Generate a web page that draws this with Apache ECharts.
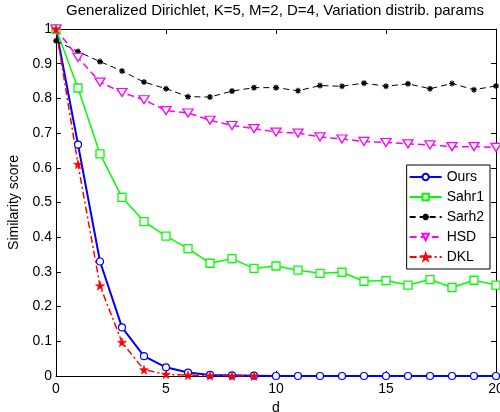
<!DOCTYPE html>
<html>
<head>
<meta charset="utf-8">
<script src="https://cdn.jsdelivr.net/npm/echarts@6/dist/echarts.min.js"></script>
<style>
    html, body { margin: 0; padding: 0; background: #fff; }
    #chart { width: 500px; height: 412px; }
</style>
</head>
<body>
<div id="chart"></div>
<script>
    // d values
    const dValues = [0, 1, 2, 3, 4, 5, 6, 7, 8, 9, 10, 11, 12, 13, 14, 15, 16, 17, 18, 19, 20];

    const ours = [1, 0.667, 0.33, 0.14, 0.057, 0.025, 0.01, 0.003, 0.002, 0.001, 0, 0, 0, 0, 0, 0, 0, 0, 0, 0, 0];
    const sahr1 = [1, 0.83, 0.64, 0.515, 0.445, 0.403, 0.367, 0.325, 0.338, 0.31, 0.317, 0.305, 0.296, 0.299, 0.273, 0.275, 0.262, 0.278, 0.255, 0.276, 0.262];
    const sarh2 = [0.966, 0.935, 0.906, 0.879, 0.847, 0.828, 0.805, 0.804, 0.821, 0.831, 0.831, 0.822, 0.837, 0.835, 0.844, 0.835, 0.842, 0.828, 0.843, 0.825, 0.836];
    const hsd = [1, 0.918, 0.847, 0.817, 0.796, 0.765, 0.758, 0.737, 0.722, 0.713, 0.703, 0.70, 0.689, 0.683, 0.676, 0.673, 0.669, 0.666, 0.661, 0.661, 0.659];
    const dkl = [1, 0.61, 0.26, 0.097, 0.018, 0.005, 0.002, 0.001, 0, 0];

    const seriesNames = ['Ours', 'Sahr1', 'Sarh2', 'HSD', 'DKL'];

    const starPath = 'path://M0,-10 L2.35,-3.24 L9.51,-3.09 L3.8,1.24 L5.88,8.09 L0,4 L-5.88,8.09 L-3.8,1.24 L-9.51,-3.09 L-2.35,-3.24 Z';
    const asteriskPath = 'path://M0,-10 L0,10 M-10,0 L10,0 M-7,-7 L7,7 M-7,7 L7,-7';

    function pairs(vals) {
        return vals.map((v, i) => [dValues[i], v]);
    }

    let chart = echarts.init(document.getElementById('chart'));
    const font = 'Liberation Sans, Arial, sans-serif';

    let option = {
        animation: false,
        backgroundColor: '#fff',
        textStyle: { fontFamily: font },
        title: {
            text: 'Generalized Dirichlet, K=5, M=2, D=4, Variation distrib. params',
            left: 275,
            textAlign: 'center',
            top: 3,
            padding: 0,
            textStyle: { fontSize: 15, fontWeight: 'normal', color: '#000', fontFamily: font }
        },
        legend: {
            orient: 'vertical',
            right: 10,
            top: 165,
            padding: [4, 6, 4, 2],
            itemWidth: 32,
            itemHeight: 8,
            itemGap: 4,
            backgroundColor: '#fff',
            borderColor: '#000',
            borderWidth: 1,
            borderRadius: 0,
            textStyle: { fontSize: 14, color: '#000', fontFamily: font, lineHeight: 16 },
            data: seriesNames
        },
        grid: { left: 56, right: 4, top: 29, bottom: 36, outerBoundsMode: 'none' },
        xAxis: [{
            type: 'value',
            min: 0, max: 20, interval: 5,
            name: 'd',
            nameLocation: 'middle',
            nameGap: 21,
            nameTextStyle: { fontSize: 14, color: '#000', verticalAlign: 'top' },
            axisLine: { onZero: false, lineStyle: { color: '#000', width: 1 } },
            axisTick: { inside: true, length: 5, lineStyle: { color: '#000' } },
            axisLabel: { fontSize: 14, color: '#000', margin: 6 },
            splitLine: { show: false }
        }, {
            type: 'value',
            position: 'top',
            min: 0, max: 20, interval: 5,
            axisLine: { onZero: false, lineStyle: { color: '#000', width: 1 } },
            axisTick: { inside: true, length: 5, lineStyle: { color: '#000' } },
            axisLabel: { show: false },
            splitLine: { show: false }
        }],
        yAxis: [{
            type: 'value',
            min: 0, max: 1, interval: 0.1,
            name: 'Similarity score',
            nameLocation: 'middle',
            nameGap: 32,
            nameTextStyle: { fontSize: 14, color: '#000' },
            axisLine: { onZero: false, lineStyle: { color: '#000', width: 1 } },
            axisTick: { inside: true, length: 5, lineStyle: { color: '#000' } },
            axisLabel: { fontSize: 14, color: '#000', margin: 4 },
            splitLine: { show: false }
        }, {
            type: 'value',
            position: 'right',
            min: 0, max: 1, interval: 0.1,
            axisLine: { onZero: false, lineStyle: { color: '#000', width: 1 } },
            axisTick: { inside: true, length: 5, lineStyle: { color: '#000' } },
            axisLabel: { show: false },
            splitLine: { show: false }
        }],
        series: [
            {
                name: 'Ours', type: 'line', data: pairs(ours),
                symbol: 'circle', symbolSize: 7, showAllSymbol: true,
                lineStyle: { color: '#0000ff', width: 2 },
                itemStyle: { color: '#fff', borderColor: '#0000ff', borderWidth: 1.2 }
            },
            {
                name: 'Sahr1', type: 'line', data: pairs(sahr1),
                symbol: 'rect', symbolSize: 8, showAllSymbol: true,
                lineStyle: { color: '#00ff00', width: 1.5 },
                itemStyle: { color: '#fff', borderColor: '#00ff00', borderWidth: 1.3 }
            },
            {
                name: 'Sarh2', type: 'line', data: pairs(sarh2),
                symbol: asteriskPath, symbolSize: 6, showAllSymbol: true,
                lineStyle: { color: '#000', width: 1, type: [6, 4] },
                itemStyle: { color: '#000', borderColor: '#000', borderWidth: 1.2 }
            },
            {
                name: 'HSD', type: 'line', data: pairs(hsd),
                symbol: 'triangle', symbolRotate: 180, symbolSize: [10, 8], showAllSymbol: true,
                lineStyle: { color: '#ff00ff', width: 1.5, type: [7, 4] },
                itemStyle: { color: '#fff', borderColor: '#ff00ff', borderWidth: 1.3 }
            },
            {
                name: 'DKL', type: 'line', data: pairs(dkl),
                symbol: starPath, symbolSize: 9, showAllSymbol: true,
                lineStyle: { color: '#ff0000', width: 1.5, type: [7, 3, 2, 3] },
                itemStyle: { color: '#ff0000', borderColor: '#ff0000', borderWidth: 0.5 }
            }
        ]
    };
    chart.setOption(option);
</script>
</body>
</html>
